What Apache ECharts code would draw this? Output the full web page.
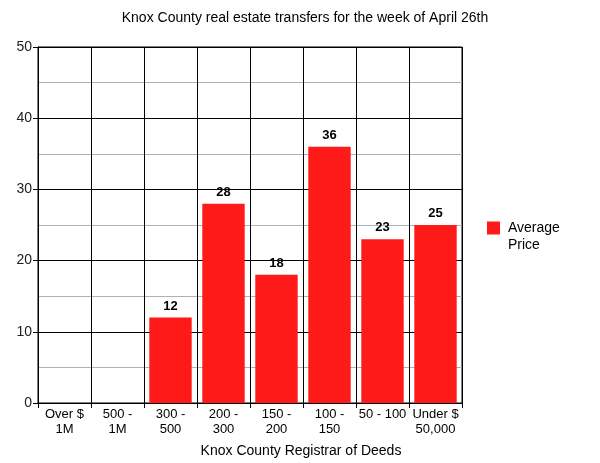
<!DOCTYPE html>
<html><head><meta charset="utf-8">
<script src="https://cdn.jsdelivr.net/npm/echarts@6/dist/echarts.min.js"></script>
<style>html,body{margin:0;padding:0;background:#fff;overflow:hidden}#c{width:600px;height:463px}</style>
</head><body><div id="c"></div>
<script>
const categories = ['Over $\n1M', '500 -\n1M', '300 -\n500', '200 -\n300', '150 -\n200', '100 -\n150', '50 - 100', 'Under $\n50,000'];
const averagePrice = [0, 0, 12, 28, 18, 36, 23, 25];
const yTicks = [0, 10, 20, 30, 40, 50];
const font = 'Liberation Sans, Arial, sans-serif';
const chart = echarts.init(document.getElementById('c'));
chart.setOption({
  animation: false,
  title: { text: 'Knox County real estate transfers for the week of April 26th', left: 300, top: 6, textAlign: 'center',
    textStyle: { fontFamily: font, fontSize: 14, fontWeight: 'normal', color: '#000' } },
  legend: { orient: 'vertical', left: 487, top: 220, padding: 0, itemWidth: 13, itemHeight: 30, itemGap: 8,
    textStyle: { fontFamily: font, fontSize: 14, color: '#000', lineHeight: 16.5, padding: [0, 0, 0, 3] },
    data: [{ name: 'Average\nPrice', icon: 'path://M0,0h13v13h-13zM0,30h13v0h-13z' }] },
  grid: { left: 38, right: 138, top: 47, bottom: 60, show: true, borderColor: '#000', borderWidth: 1,
    containLabel: false, outerBoundsMode: 'none' },
  xAxis: {
    type: 'category', data: categories,
    name: 'Knox County Registrar of Deeds', nameLocation: 'middle', nameGap: 41,
    nameTextStyle: { fontFamily: font, fontSize: 14, color: '#000', padding: [0, 0, 0, 102] },
    axisLine: { lineStyle: { color: '#000' } },
    axisTick: { show: true, length: 5, lineStyle: { color: '#000' } },
    axisLabel: { fontFamily: font, fontSize: 13, color: '#000', margin: 4, lineHeight: 15, interval: 0 },
    splitLine: { show: true, lineStyle: { color: '#000', width: 1 } }
  },
  yAxis: {
    type: 'value', min: yTicks[0], max: yTicks[yTicks.length - 1], interval: 10,
    axisLine: { show: true, lineStyle: { color: '#000' } },
    axisTick: { show: true, length: 5, lineStyle: { color: '#000' } },
    axisLabel: { fontFamily: font, fontSize: 14, color: '#222', margin: 6 },
    splitLine: { show: true, lineStyle: { color: '#000', width: 1 } },
    minorTick: { show: false, splitNumber: 2 },
    minorSplitLine: { show: true, lineStyle: { color: '#b0b0b0', width: 1 } }
  },
  series: [{
    name: 'Average\nPrice', type: 'bar', data: averagePrice, barCategoryGap: '20%',
    itemStyle: { color: '#ff1a1a' },
    label: { show: true, position: 'top', distance: 5, fontFamily: font, fontSize: 13, fontWeight: 'bold', color: '#000',
      formatter: p => p.value > 0 ? p.value : '' }
  }]
});
</script></body></html>
